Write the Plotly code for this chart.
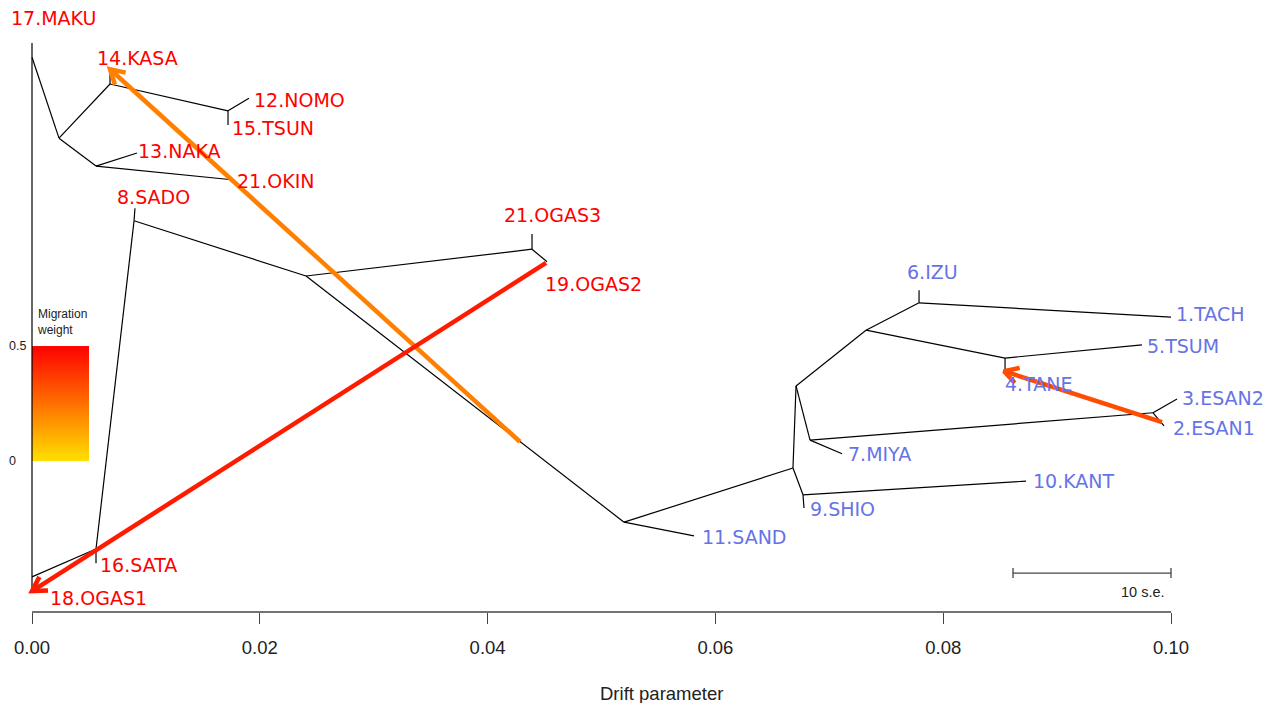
import math
import plotly.graph_objects as go
import plotly.colors as pc

# ---------------- data ----------------
# tree nodes: name, drift (x), vertical position (y)
node_names = ["top", "bot", "MAKU", "OGAS1", "F", "G", "KASA", "H", "NOMO", "TSUN",
              "I", "NAKA", "OKIN", "K", "SATA", "A", "SADO", "B", "C", "OGAS3", "OGAS2",
              "D", "SAND", "E", "L", "SHIO", "KANT", "M", "N", "MIYA", "O", "ESAN2",
              "ESAN1", "P", "Q", "IZU", "TACH", "R", "TSUM", "TANE"]
node_drift = [0.0, 0.0, 0.0, 0.0, 0.00237, 0.00685, 0.00685, 0.01721, 0.01905, 0.01721,
              0.00562, 0.00922, 0.01756, 0.00562, 0.00562, 0.00896, 0.00904, 0.02406, 0.04390, 0.04390, 0.04522,
              0.05198, 0.05812, 0.06681, 0.06769, 0.06778, 0.08727, 0.06708, 0.06831, 0.07112, 0.09842, 0.10053,
              0.09939, 0.07322, 0.07788, 0.07788, 0.10000, 0.08543, 0.09745, 0.08543]
node_y = [0.974, 0.024, 1.000, 0.000, 0.826, 0.925, 0.943, 0.876, 0.899, 0.850,
          0.775, 0.799, 0.750, 0.075, 0.049, 0.675, 0.698, 0.574, 0.623, 0.651, 0.600,
          0.124, 0.099, 0.223, 0.174, 0.150, 0.199, 0.373, 0.274, 0.249, 0.324, 0.349,
          0.300, 0.475, 0.525, 0.548, 0.499, 0.424, 0.448, 0.399]

edge_parent = ["top", "top", "bot", "top", "F", "G", "G", "H", "H", "F", "I", "I",
               "bot", "K", "K", "A", "A", "B", "C", "C", "B", "D", "D", "E", "L", "L",
               "E", "M", "N", "N", "O", "O", "M", "P", "Q", "Q", "P", "R", "R"]
edge_child = ["MAKU", "bot", "OGAS1", "F", "G", "KASA", "H", "NOMO", "TSUN", "I", "NAKA", "OKIN",
              "K", "SATA", "A", "SADO", "B", "C", "OGAS3", "OGAS2", "D", "SAND", "E", "L", "SHIO", "KANT",
              "M", "N", "MIYA", "O", "ESAN2", "ESAN1", "P", "Q", "IZU", "TACH", "R", "TSUM", "TANE"]

tip_nodes = ["MAKU", "KASA", "NOMO", "TSUN", "NAKA", "OKIN", "SADO", "OGAS3", "OGAS2", "SATA",
             "OGAS1", "SAND", "SHIO", "KANT", "MIYA", "ESAN2", "ESAN1", "TANE", "TSUM", "TACH", "IZU"]
tip_labels = ["17.MAKU", "14.KASA", "12.NOMO", "15.TSUN", "13.NAKA", "21.OKIN", "8.SADO", "21.OGAS3",
              "19.OGAS2", "16.SATA", "18.OGAS1", "11.SAND", "9.SHIO", "10.KANT", "7.MIYA", "3.ESAN2",
              "2.ESAN1", "4.TANE", "5.TSUM", "1.TACH", "6.IZU"]
tip_group = ["A", "A", "A", "A", "A", "A", "A", "A", "A", "A",
             "A", "B", "B", "B", "B", "B", "B", "B", "B", "B", "B"]

# migration edges
mig_from_drift = [0.04284, 0.04513, 0.09921]
mig_from_y = [0.271, 0.598, 0.307]
mig_to_drift = [0.00685, 0.0, 0.08534]
mig_to_y = [0.952, -0.002, 0.400]
mig_weight = [0.215, 0.44, 0.33]

x_ticks = [0.00, 0.02, 0.04, 0.06, 0.08, 0.10]
legend_ticks = [0.0, 0.5]
ten_se = 0.01387

# ---------------- layout geometry ----------------
W, H = 1277, 703
B_MARGIN = 91
PH = H - B_MARGIN
X0, X1 = -32 / 11390, 1245 / 11390
Y0, Y1 = -22 / 547, 590 / 547

def to_px(x, y):
    return (x - X0) / (X1 - X0) * W, PH - (y - Y0) / (Y1 - Y0) * PH

def from_px(px, py):
    return X0 + px / W * (X1 - X0), Y0 + (PH - py) / PH * (Y1 - Y0)

pos = {n: (x, y) for n, x, y in zip(node_names, node_drift, node_y)}
group_color = {"A": "#FF0000", "B": "#6673E6"}
label_offset = {  # pixel offsets (dx right, dy down) of label left/middle from tip
    "MAKU": (-23, -25), "KASA": (-15, -16.5), "NOMO": (3, 2), "TSUN": (2, 3), "NAKA": (-1, -1.5),
    "OKIN": (3, 1), "SADO": (-20, -11), "OGAS3": (-30, -19), "OGAS2": (-4, 22), "SATA": (2, 2),
    "OGAS1": (16, 8), "SAND": (6, 1), "SHIO": (4, 1), "KANT": (5, 0), "MIYA": (4, 0),
    "ESAN2": (3, -1), "ESAN1": (7, 2), "TANE": (-2, 12), "TSUM": (3, 1), "TACH": (3, -3),
    "IZU": (-14, -18),
}

fig = go.Figure()

# legend gradient (weight 0 .. 0.5)
leg_y0, leg_y1 = 0.236, 0.446
cs = [[0, "#FFE000"], [1, "#FF0000"]]
nrow = 80
yedges = [leg_y0 + (leg_y1 - leg_y0) * i / nrow for i in range(nrow + 1)]
zvals = [[0.5 * (i + 0.5) / nrow] for i in range(nrow)]
fig.add_trace(go.Heatmap(z=zvals, x=[0.0, 0.005], y=yedges, colorscale=cs, zmin=0, zmax=0.5,
                         showscale=False, hoverinfo="skip"))

# tree edges
ex, ey = [], []
for p, c in zip(edge_parent, edge_child):
    ex += [pos[p][0], pos[c][0], None]
    ey += [pos[p][1], pos[c][1], None]
fig.add_trace(go.Scatter(x=ex, y=ey, mode="lines", line=dict(color="black", width=1.2),
                         hoverinfo="skip", showlegend=False))

# migration arrows
for fx, fy, tx, ty, w in zip(mig_from_drift, mig_from_y, mig_to_drift, mig_to_y, mig_weight):
    col = pc.sample_colorscale(cs, [w / 0.5])[0]
    fpx, fpy = to_px(fx, fy)
    tpx, tpy = to_px(tx, ty)
    dx, dy = fpx - tpx, fpy - tpy
    L = math.hypot(dx, dy)
    ux, uy = dx / L, dy / L
    arms = []
    for ang in (math.radians(30), -math.radians(30)):
        ax = ux * math.cos(ang) - uy * math.sin(ang)
        ay = ux * math.sin(ang) + uy * math.cos(ang)
        arms.append(from_px(tpx + 16 * ax, tpy + 16 * ay))
    xs = [fx, tx, None, arms[0][0], tx, arms[1][0]]
    ys = [fy, ty, None, arms[0][1], ty, arms[1][1]]
    fig.add_trace(go.Scatter(x=xs, y=ys, mode="lines", line=dict(color=col, width=4.5),
                             hoverinfo="skip", showlegend=False))

# scale bar (10 s.e.)
sb_y = 0.031
tk = 5 * (Y1 - Y0) / PH
fig.add_trace(go.Scatter(x=[0.10 - ten_se, 0.10, None, 0.10 - ten_se, 0.10 - ten_se, None, 0.10, 0.10],
                         y=[sb_y, sb_y, None, sb_y - tk, sb_y + tk, None, sb_y - tk, sb_y + tk],
                         mode="lines", line=dict(color="#444", width=1.3), hoverinfo="skip",
                         showlegend=False))

annotations = []
for n, lab, g in zip(tip_nodes, tip_labels, tip_group):
    dxp, dyp = label_offset[n]
    annotations.append(dict(x=pos[n][0], y=pos[n][1], text=lab, showarrow=False,
                            xanchor="left", yanchor="middle", xshift=dxp, yshift=-dyp,
                            font=dict(family="DejaVu Sans", size=19, color=group_color[g])))

annotations.append(dict(x=0.10, y=sb_y, text="10 s.e.", showarrow=False, xanchor="right",
                        yanchor="middle", xshift=-4, yshift=-19,
                        font=dict(family="Liberation Sans", size=14.5, color="#222")))

# migration legend texts
annotations.append(dict(x=0.0, y=leg_y1, text="Migration<br>weight", showarrow=False,
                        xanchor="left", yanchor="bottom", xshift=3, yshift=7, align="left",
                        font=dict(family="Liberation Sans", size=12, color="#222")))
for t in legend_ticks:
    yy = leg_y0 + (leg_y1 - leg_y0) * t / 0.5
    annotations.append(dict(x=7 / W, xref="paper", y=yy, text=("%g" % t), showarrow=False,
                            xanchor="left", yanchor="middle",
                            font=dict(family="Liberation Sans", size=12.5, color="#222")))

annotations.append(dict(x=661 / W, xref="paper", yref="paper", y=(PH - 693) / PH,
                        text="Drift parameter", showarrow=False, xanchor="center",
                        yanchor="middle", font=dict(family="Liberation Sans", size=18.5, color="#222")))

fig.update_layout(
    width=W, height=H, margin=dict(l=0, r=0, t=0, b=B_MARGIN),
    paper_bgcolor="white", plot_bgcolor="white", showlegend=False,
    xaxis=dict(range=[X0, X1], tickvals=x_ticks, ticktext=["%.2f" % v for v in x_ticks],
               ticks="outside", ticklen=11, tickwidth=1.3, tickcolor="#444",
               ticklabelstandoff=8,
               showgrid=False, zeroline=False, showline=False,
               tickfont=dict(family="Liberation Sans", size=18.5, color="#222")),
    yaxis=dict(range=[Y0, Y1], visible=False, showgrid=False, zeroline=False),
    annotations=annotations,
    shapes=[dict(type="line", xref="x", yref="paper", x0=0.0, x1=0.10, y0=0, y1=0,
                 line=dict(color="#444", width=1.3))],
)

fig.write_html("out.html")
